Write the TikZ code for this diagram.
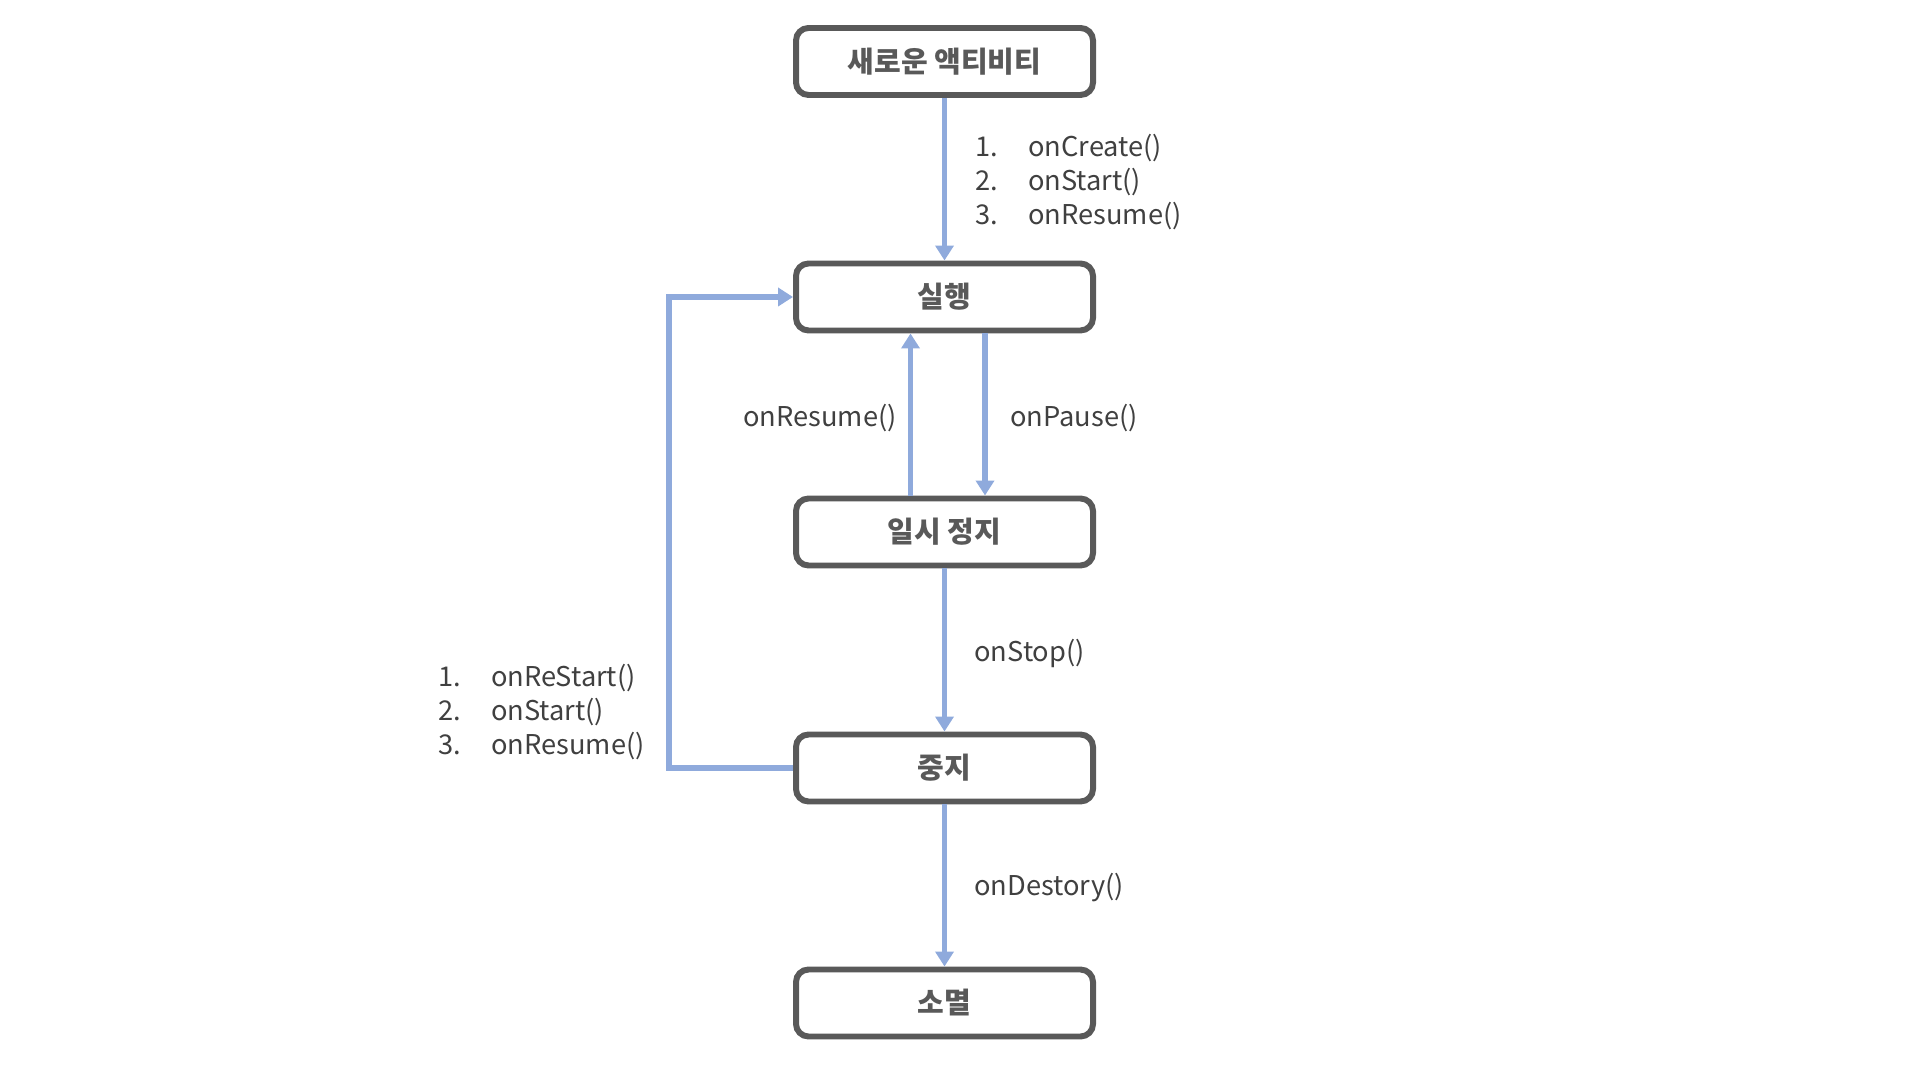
\documentclass[tikz,border=0pt]{standalone}
\usepackage{fontspec}
\setmainfont{Noto Sans CJK KR}
\usetikzlibrary{arrows.meta, positioning}
\definecolor{stateedge}{RGB}{89,89,89}
\definecolor{flowblue}{RGB}{143,170,220}
\definecolor{labelgray}{RGB}{64,64,64}

\begin{document}
\begin{tikzpicture}[
    state/.style={draw=stateedge, line width=3.4pt, rounded corners=0.25cm,
                  minimum width=5.94cm, minimum height=1.34cm, fill=white,
                  text=stateedge, font=\fontsize{16.5}{19}\selectfont\bfseries},
    flow/.style={draw=flowblue, line width=3.2pt,
                 -{Triangle[width=0.36cm, length=0.3cm]}},
    callback/.style={text=labelgray, anchor=west, inner sep=0pt,
                     font=\fontsize{15.5}{19.4}\selectfont}
  ]
  \useasboundingbox (0,0) rectangle (38.4,21.5);
  % Activity states
  \node[state] (newact)    at (18.89,20.27) {새로운 액티비티};
  \node[state] (running)   at (18.89,15.56) {실행};
  \node[state] (paused)    at (18.89,10.86) {일시 정지};
  \node[state] (stopped)   at (18.89,6.14)  {중지};
  \node[state] (destroyed) at (18.89,1.44)  {소멸};
  % Transitions
  \draw[flow] (newact) -- (running);
  \draw[flow] ([xshift=-0.68cm]paused.north) -- ([xshift=-0.68cm]running.south);
  \draw[flow] ([xshift=0.81cm]running.south) -- ([xshift=0.81cm]paused.north);
  \draw[flow] (paused) -- (stopped);
  \draw[flow] (stopped) -- (destroyed);
  \coordinate (loopx) at (13.38,0);
  \draw[flow] (stopped.west) -- (stopped.west -| loopx) |- (running.west);
  % Callback labels
  \node[callback] (createlist) at (19.5,17.83) {%
    \begin{tabular}{@{}p{1.06cm}@{}l@{}}
      1. & onCreate()\\
      2. & onStart()\\
      3. & onResume()
    \end{tabular}};
  \node[callback] (restartlist) at (8.76,7.23) {%
    \begin{tabular}{@{}p{1.06cm}@{}l@{}}
      1. & onReStart()\\
      2. & onStart()\\
      3. & onResume()
    \end{tabular}};
  \node[callback] (resumelbl)  at (14.86,13.14) {onResume()};
  \node[callback] (pauselbl)   at (20.2,13.14)  {onPause()};
  \node[callback] (stoplbl)    at (19.48,8.44)  {onStop()};
  \node[callback] (destroylbl) at (19.48,3.74)  {onDestory()};
\end{tikzpicture}
\end{document}
